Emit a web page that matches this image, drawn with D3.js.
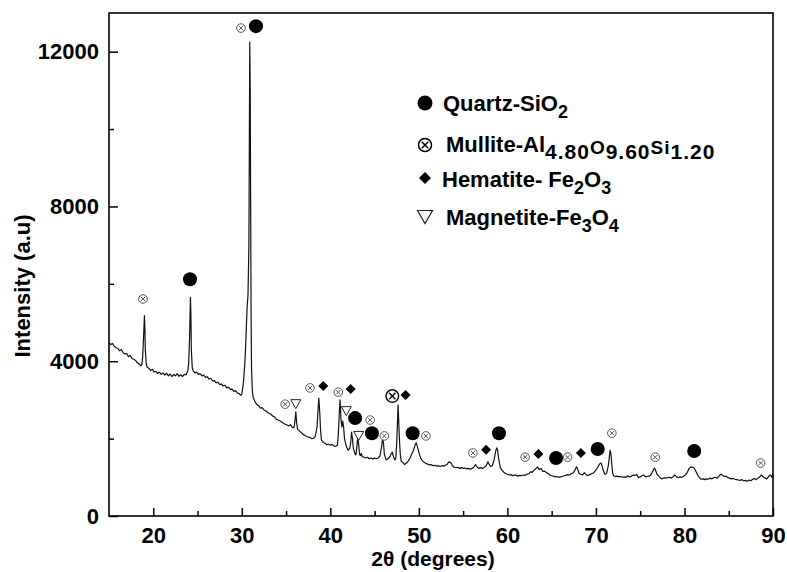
<!DOCTYPE html>
<html>
<head>
<meta charset="utf-8">
<script src="https://cdn.jsdelivr.net/npm/d3@7"></script>
<style>
  body { margin: 0; background: #fff; }
  svg text { font-family: "Liberation Sans", Arial, sans-serif; font-weight: bold; fill: #000; }
</style>
</head>
<body>
<div id="chart"></div>
<script>
// XRD pattern: [2theta, intensity]
const xrdPattern = [
  [15.0,4480],[15.2,4430],[15.4,4460],[15.6,4380],[15.8,4350],[16.0,4330],[16.2,4270],[16.4,4300],
  [16.6,4220],[16.8,4190],[17.0,4200],[17.2,4120],[17.4,4150],[17.6,4070],[17.8,4050],[18.0,4020],
  [18.2,3960],[18.4,3930],[18.6,3880],[18.7,3900],[18.8,4100],[18.9,4600],[19.0,5180],[19.05,4900],
  [19.1,4300],[19.2,3950],[19.3,3850],[19.5,3820],[19.7,3760],[19.9,3790],[20.1,3720],[20.3,3740],
  [20.5,3680],[20.7,3720],[20.9,3660],[21.1,3700],[21.3,3640],[21.5,3690],[21.7,3620],[21.9,3670],
  [22.1,3600],[22.3,3660],[22.5,3620],[22.7,3680],[22.9,3610],[23.1,3650],[23.3,3600],[23.5,3660],
  [23.7,3650],[23.9,3750],[24.0,3950],[24.1,4600],[24.2,5650],[24.25,5200],[24.3,4300],[24.4,3850],
  [24.5,3760],[24.7,3700],[24.9,3720],[25.1,3660],[25.3,3680],[25.5,3620],[25.7,3640],[25.9,3580],
  [26.1,3600],[26.3,3540],[26.5,3560],[26.7,3490],[26.9,3500],[27.1,3440],[27.3,3460],[27.5,3400],
  [27.7,3410],[27.9,3360],[28.1,3380],[28.3,3310],[28.5,3330],[28.7,3270],[28.9,3280],[29.1,3220],
  [29.3,3240],[29.5,3180],[29.7,3160],[29.9,3120],[30.0,3150],[30.1,3300],[30.2,3500],[30.3,3800],
  [30.4,4200],[30.5,4800],[30.6,5400],[30.7,5700],[30.8,7000],[30.85,9500],[30.9,12250],[30.95,11000],
  [31.0,8000],[31.05,5200],[31.1,3800],[31.2,3200],[31.3,3050],[31.5,2950],[31.7,2880],[31.9,2850],
  [32.1,2790],[32.3,2800],[32.5,2740],[32.7,2720],[32.9,2680],[33.1,2650],[33.3,2630],[33.5,2580],
  [33.7,2560],[33.9,2500],[34.1,2480],[34.3,2460],[34.5,2430],[34.7,2400],[34.9,2370],[35.1,2350],
  [35.3,2330],[35.5,2360],[35.7,2290],[35.9,2280],[36.0,2450],[36.1,2690],[36.2,2400],[36.3,2240],
  [36.5,2200],[36.7,2160],[36.9,2110],[37.1,2090],[37.3,2060],[37.5,2040],[37.7,2030],[37.9,2000],
  [38.1,2010],[38.3,2060],[38.5,2300],[38.6,2700],[38.7,3050],[38.8,2700],[38.9,2200],[39.0,1960],
  [39.2,1900],[39.4,1880],[39.6,1840],[39.8,1860],[40.0,1830],[40.2,1850],[40.4,1810],[40.6,1800],
  [40.8,1830],[40.9,2100],[41.0,2600],[41.1,3000],[41.2,2500],[41.3,2300],[41.4,2450],[41.5,2300],
  [41.6,2000],[41.8,1800],[42.0,1700],[42.2,1750],[42.3,1900],[42.4,2170],[42.5,2000],[42.6,1750],
  [42.8,1600],[42.9,1580],[43.0,1800],[43.1,2040],[43.2,1850],[43.3,1600],[43.4,1560],[43.5,1620],
  [43.6,1540],[43.8,1520],[44.0,1500],[44.2,1520],[44.4,1480],[44.6,1500],[44.8,1470],[45.0,1500],
  [45.2,1480],[45.4,1500],[45.6,1550],[45.8,1800],[45.9,2010],[46.0,1900],[46.1,1600],[46.3,1450],
  [46.5,1480],[46.7,1520],[46.9,1620],[47.0,1650],[47.1,1550],[47.3,1450],[47.4,1500],[47.5,1900],
  [47.6,2500],[47.65,2870],[47.7,2600],[47.8,2000],[47.9,1600],[48.0,1420],[48.2,1380],[48.4,1330],
  [48.6,1370],[48.8,1420],[49.0,1500],[49.2,1600],[49.4,1700],[49.6,1850],[49.7,1890],[49.8,1820],
  [50.0,1650],[50.2,1500],[50.4,1420],[50.6,1390],[50.8,1360],[51.0,1340],[51.2,1320],[51.4,1330],
  [51.6,1300],[51.8,1310],[52.0,1290],[52.2,1300],[52.4,1280],[52.6,1300],[52.8,1290],[53.0,1310],
  [53.2,1340],[53.4,1400],[53.6,1380],[53.8,1300],[54.0,1260],[54.2,1250],[54.4,1260],[54.6,1230],
  [54.8,1250],[55.0,1230],[55.2,1240],[55.4,1220],[55.6,1230],[55.8,1210],[56.0,1230],[56.2,1260],
  [56.4,1330],[56.6,1260],[56.8,1230],[57.0,1250],[57.2,1230],[57.4,1260],[57.6,1300],[57.8,1400],
  [57.9,1350],[58.1,1280],[58.3,1300],[58.5,1450],[58.7,1700],[58.8,1760],[58.9,1700],[59.0,1500],
  [59.2,1250],[59.4,1180],[59.6,1130],[59.8,1100],[60.0,1080],[60.2,1060],[60.4,1070],[60.6,1040],
  [60.8,1060],[61.0,1050],[61.2,1030],[61.4,1050],[61.6,1040],[61.8,1060],[62.0,1050],[62.2,1080],
  [62.4,1090],[62.6,1140],[62.8,1130],[63.0,1180],[63.2,1220],[63.4,1270],[63.6,1200],[63.8,1230],
  [64.0,1150],[64.2,1160],[64.4,1120],[64.6,1100],[64.8,1060],[65.0,1040],[65.2,1030],[65.4,1010],
  [65.6,1020],[65.8,1000],[66.0,1010],[66.2,1020],[66.4,1040],[66.6,1050],[66.8,1070],[67.0,1060],
  [67.2,1090],[67.4,1110],[67.6,1170],[67.8,1270],[67.9,1230],[68.1,1100],[68.3,1080],[68.5,1060],
  [68.7,1120],[68.9,1060],[69.1,1050],[69.3,1070],[69.5,1090],[69.7,1110],[69.9,1160],[70.1,1220],
  [70.3,1300],[70.5,1370],[70.6,1360],[70.8,1200],[71.0,1080],[71.2,1100],[71.4,1300],[71.5,1500],
  [71.6,1700],[71.7,1600],[71.8,1300],[71.9,1100],[72.0,1040],[72.2,1020],[72.4,1030],[72.6,1010],
  [72.8,1020],[73.0,1000],[73.2,1010],[73.4,1000],[73.6,1040],[73.8,1010],[74.0,1030],[74.2,1060],
  [74.4,1050],[74.6,1070],[74.8,1000],[75.0,1010],[75.2,1040],[75.4,1060],[75.6,1010],[75.8,1020],
  [76.0,1030],[76.2,1060],[76.4,1150],[76.6,1240],[76.7,1200],[76.9,1080],[77.1,1030],[77.3,980],
  [77.5,960],[77.7,990],[77.9,980],[78.1,990],[78.3,1000],[78.5,980],[78.7,1010],[78.9,1060],
  [79.1,1010],[79.3,990],[79.5,1010],[79.7,1000],[79.9,1030],[80.1,1060],[80.3,1120],[80.5,1220],
  [80.7,1270],[80.9,1260],[81.1,1240],[81.3,1150],[81.5,1050],[81.7,990],[81.9,950],[82.1,960],
  [82.3,940],[82.5,960],[82.7,950],[82.9,980],[83.1,960],[83.3,990],[83.5,1000],[83.7,980],
  [83.9,1030],[84.1,1080],[84.3,1050],[84.5,1020],[84.7,1030],[84.9,990],[85.1,980],[85.3,960],
  [85.5,970],[85.7,950],[85.9,940],[86.1,930],[86.3,920],[86.5,940],[86.7,910],[86.9,920],
  [87.1,900],[87.3,930],[87.5,910],[87.7,950],[87.9,970],[88.1,940],[88.3,980],[88.5,1010],
  [88.7,1060],[88.9,1010],[89.1,980],[89.3,960],[89.5,1020],[89.7,1060],[89.9,1000],[90.0,1100]
];

// phase markers [2theta, intensity where the symbol sits]
const quartzPeaks = [[24.15,6120],[31.6,12660],[42.8,2530],[44.7,2140],[49.3,2140],[59.05,2140],[65.5,1500],[70.2,1730],[81.1,1680]];
const mulliteMarks = [[18.84,5610],[29.9,12610],[34.9,2890],[37.7,3310],[40.9,3200],[44.5,2480],[46.1,2070],[50.8,2070],[56.1,1630],[62.0,1520],[66.8,1520],[71.8,2140],[76.7,1520],[88.6,1370]];
const mulliteStrong = [[47.0,3100]];
const hematiteMarks = [[39.2,3360],[42.3,3280],[48.5,3130],[57.6,1710],[63.5,1600],[68.3,1630]];
const magnetiteMarks = [[36.1,2890],[41.8,2710],[43.2,2070]];

const xMajor = [20, 30, 40, 50, 60, 70, 80, 90];
const xMinor = [25, 35, 45, 55, 65, 75, 85];
const yMajor = [0, 4000, 8000, 12000];
const yMinor = [2000, 6000, 10000];

// legend text pieces: [text, kind]  n = normal, s = subscript, S = large subscript, m = small lowered
const legendRows = [
  { sym: "quartz",    parts: [["Quartz-SiO","n"],["2","s"]] },
  { sym: "mullite",   parts: [["Mullite-Al","n"],["4.80","S"],["O","m"],["9.60","S"],["Si","m"],["1.20","S"]] },
  { sym: "hematite",  parts: [["Hematite- Fe","n"],["2","s"],["O","n"],["3","s"]] },
  { sym: "magnetite", parts: [["Magnetite-Fe","n"],["3","s"],["O","n"],["4","s"]] }
];

const width = 787, height = 572;
const plotL = 109, plotR = 773, plotT = 13, plotB = 516;

const svg = d3.select("#chart").append("svg")
  .attr("width", width).attr("height", height);

const x = d3.scaleLinear().domain([15, 90]).range([plotL, plotR]);
const y = d3.scaleLinear().domain([0, 13000]).range([plotB, plotT]);

svg.append("clipPath").attr("id", "plot")
  .append("rect").attr("x", plotL).attr("y", plotT)
  .attr("width", plotR - plotL).attr("height", plotB - plotT);

// trace
svg.append("path")
  .datum(xrdPattern)
  .attr("clip-path", "url(#plot)")
  .attr("fill", "none")
  .attr("stroke", "#111")
  .attr("stroke-width", 1.2)
  .attr("stroke-linejoin", "round")
  .attr("d", d3.line().x(d => x(d[0])).y(d => y(d[1])));

// axes, ticks pointing inwards
svg.append("g").attr("transform", `translate(0,${plotB})`)
  .call(d3.axisBottom(x).tickValues(xMajor).tickSize(-8).tickPadding(11).tickFormat(d3.format("d")));
svg.append("g").attr("transform", `translate(0,${plotB})`)
  .call(d3.axisBottom(x).tickValues(xMinor).tickSize(-5).tickFormat(""));
svg.append("g").attr("transform", `translate(${plotL},0)`)
  .call(d3.axisLeft(y).tickValues(yMajor).tickSize(-9).tickPadding(10).tickFormat(d3.format("d")));
svg.append("g").attr("transform", `translate(${plotL},0)`)
  .call(d3.axisLeft(y).tickValues(yMinor).tickSize(-5).tickFormat(""));

svg.selectAll(".domain").remove();
svg.selectAll(".tick line").attr("stroke", "#000").attr("stroke-width", 1.5);
svg.selectAll(".tick text").style("font-size", "22px");

svg.append("rect")
  .attr("x", plotL).attr("y", plotT)
  .attr("width", plotR - plotL).attr("height", plotB - plotT)
  .attr("fill", "none").attr("stroke", "#000").attr("stroke-width", 1.6);

// axis titles
svg.append("text")
  .attr("x", 433).attr("y", 566)
  .attr("text-anchor", "middle")
  .style("font-size", "21px")
  .text("2θ (degrees)");

svg.append("text")
  .attr("transform", "translate(30,286) rotate(-90)")
  .attr("text-anchor", "middle")
  .style("font-size", "22px")
  .text("Intensity (a.u)");

// symbol helpers
function drawCircle(g, cx, cy, r) {
  g.append("circle").attr("cx", cx).attr("cy", cy).attr("r", r).attr("fill", "#000");
}
function drawCross(g, cx, cy, r, color, sw) {
  g.append("circle").attr("cx", cx).attr("cy", cy).attr("r", r)
    .attr("fill", "#fff").attr("stroke", color).attr("stroke-width", sw);
  const k = r * 0.5;
  g.append("path")
    .attr("d", `M${cx - k},${cy - k}L${cx + k},${cy + k}M${cx + k},${cy - k}L${cx - k},${cy + k}`)
    .attr("stroke", color).attr("stroke-width", sw);
}
function drawDiamond(g, cx, cy, h) {
  g.append("path")
    .attr("d", `M${cx},${cy - h}L${cx + h},${cy}L${cx},${cy + h}L${cx - h},${cy}Z`)
    .attr("fill", "#000");
}
function drawTriangle(g, cx, cy, w, h, sw) {
  g.append("path")
    .attr("d", `M${cx - w / 2},${cy - h / 2}L${cx + w / 2},${cy - h / 2}L${cx},${cy + h / 2}Z`)
    .attr("fill", "#fff").attr("stroke", "#222").attr("stroke-width", sw);
}

const marks = svg.append("g");
quartzPeaks.forEach(d => drawCircle(marks, x(d[0]), y(d[1]), 7));
mulliteMarks.forEach(d => drawCross(marks, x(d[0]), y(d[1]), 4.3, "#555", 1));
mulliteStrong.forEach(d => drawCross(marks, x(d[0]), y(d[1]), 6.3, "#111", 1.5));
hematiteMarks.forEach(d => drawDiamond(marks, x(d[0]), y(d[1]), 5));
magnetiteMarks.forEach(d => drawTriangle(marks, x(d[0]), y(d[1]), 10, 9, 1));

// legend
const legend = svg.append("g");
const rowY = [103, 145, 178, 217];
const baseY = [111, 152, 187, 225];
const textX = [443, 446, 442, 446];
const kindSize = { n: 22, s: 18, S: 21, m: 19 };
const kindShift = { n: 0, s: 7, S: 7, m: 2 };
legendRows.forEach((row, i) => {
  const cy = rowY[i];
  if (row.sym === "quartz") drawCircle(legend, 425, cy, 7.5);
  if (row.sym === "mullite") drawCross(legend, 425, cy, 6.5, "#000", 1.5);
  if (row.sym === "hematite") drawDiamond(legend, 425, cy, 6);
  if (row.sym === "magnetite") drawTriangle(legend, 425, cy, 15, 13, 1.2);

  const t = legend.append("text").attr("x", textX[i]).attr("y", baseY[i]);
  row.parts.forEach(p => {
    const kind = p[1];
    t.append("tspan")
      .attr("y", baseY[i] + kindShift[kind])
      .style("font-size", kindSize[kind] + "px")
      .style("letter-spacing", kind === "S" || kind === "m" ? "1px" : null)
      .text(p[0]);
  });
});
</script>
</body>
</html>
